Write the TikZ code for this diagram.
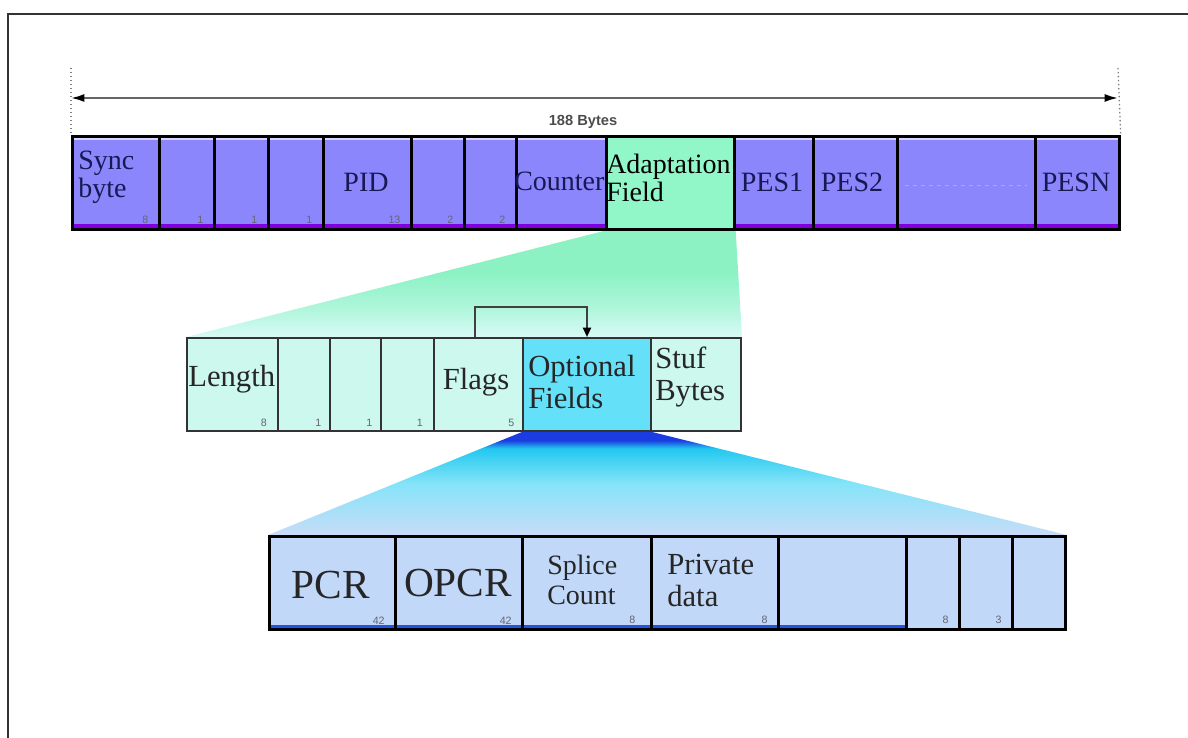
\documentclass[tikz,border=0pt]{standalone}
\usepackage{fontspec}
\setmainfont{Liberation Serif}
\newfontfamily\bytesfont{Liberation Sans}
\usetikzlibrary{arrows.meta,backgrounds}

\definecolor{tsblue}{RGB}{140,134,252}
\definecolor{tsstripe}{RGB}{128,0,224}
\definecolor{afgreen}{RGB}{145,246,200}
\definecolor{afcell}{RGB}{204,248,238}
\definecolor{optcyan}{RGB}{100,224,248}
\definecolor{ofcell}{RGB}{194,216,248}
\definecolor{ofstripe}{RGB}{36,84,226}
\definecolor{navytext}{RGB}{24,24,84}
\definecolor{numgray}{RGB}{100,100,115}
\definecolor{gftop}{RGB}{140,242,196}
\definecolor{gfmid}{RGB}{176,246,220}
\definecolor{gfbot}{RGB}{216,250,246}
\definecolor{bfdark}{RGB}{26,60,224}
\definecolor{bfcyan}{RGB}{34,200,240}
\definecolor{bfmid}{RGB}{132,228,248}
\definecolor{bfbot}{RGB}{200,220,248}

\pgfdeclareverticalshading{greenfan}{100bp}{color(0bp)=(gfbot); color(25bp)=(gfbot); color(38bp)=(gfmid); color(55bp)=(gftop); color(75bp)=(gftop); color(100bp)=(gftop)}
\pgfdeclareverticalshading{bluefan}{100bp}{color(0bp)=(bfbot); color(25bp)=(bfbot); color(50bp)=(bfmid); color(67bp)=(bfcyan); color(71bp)=(bfdark); color(75bp)=(bfdark); color(100bp)=(bfdark)}

\tikzset{
  frame/.style={draw=black!80, line width=1.5pt},
  dimline/.style={draw=black!60, line width=1.5pt,
    {Latex[length=10pt,width=6pt,color=black]}-{Latex[length=10pt,width=6pt,color=black]}},
  tick/.style={draw=black!50, dotted, line width=1pt},
  bytes/.style={font=\bytesfont\bfseries\fontsize{11}{13}\selectfont, text=black!70, inner sep=0pt},
  wd/.style={minimum width=#1*0.75pt},
  tscell/.style={draw=black, line width=2pt, fill=tsblue, anchor=north west, inner sep=0pt, minimum height=69.75pt},
  tsbar/.style={path picture={
      \fill[tsstripe] (path picture bounding box.south west) rectangle ([yshift=4pt]path picture bounding box.south east);
      \fill[white!65!tsblue] ([yshift=-1.5pt]path picture bounding box.north west) rectangle ([yshift=-3pt]path picture bounding box.north east);}},
  afcellst/.style={draw=black!80, line width=1.5pt, fill=afcell, anchor=north west, inner sep=0pt, minimum height=69.75pt},
  ofcellst/.style={draw=black, line width=2.2pt, fill=ofcell, anchor=north west, inner sep=0pt, minimum height=69.75pt},
  ofbar/.style={path picture={
      \fill[ofstripe] (path picture bounding box.south west) rectangle ([yshift=3.5pt]path picture bounding box.south east);}},
  num/.style={font=\bytesfont\fontsize{8}{9}\selectfont, text=numgray, anchor=south east, inner sep=0pt, xshift=-9pt, yshift=5pt},
  lbl/.style={inner sep=0pt, align=left, text=navytext, font=\fontsize{21}{21}\selectfont},
  lblmid/.style={inner sep=0pt, align=left, text=black!85, font=\fontsize{23}{24}\selectfont},
  lblbig/.style={inner sep=0pt, text=black!85, font=\fontsize{31}{32}\selectfont},
  flagline/.style={draw=black!75, line width=1.5pt, -{Triangle[length=7pt,width=6pt,color=black]}}
}

\begin{document}
\begin{tikzpicture}[x=0.75pt, y=-0.75pt]
\useasboundingbox (0,0) rectangle (1188,738);

%Drawing frame
\draw[frame] (8,738) -- (8,14) -- (1188,14);

%Drawing transport packet
\node[tscell, tsbar, wd=87, label={[num]south east:8}] (sync) at (71,135) {};
\node[lbl, anchor=west] (syncT) at (78,177) {Sync\\byte};
\node[tscell, tsbar, wd=55, label={[num]south east:1}] (bitA) at (158,135) {};
\node[tscell, tsbar, wd=54, label={[num]south east:1}] (bitB) at (213,135) {};
\node[tscell, tsbar, wd=55, label={[num]south east:1}] (bitC) at (267,135) {};
\node[tscell, tsbar, wd=88, label={[num]south east:13}] (pid) at (322,135) {};
\node[lbl] (pidT) at (366,182) {PID};
\node[tscell, tsbar, wd=53, label={[num]south east:2}] (scr) at (410,135) {};
\node[tscell, tsbar, wd=52, label={[num]south east:2}] (afc) at (463,135) {};
\node[tscell, tsbar, wd=90] (cnt) at (515,135) {};
\node[lbl, anchor=west] (cntT) at (514,181) {Counter};
\node[tscell, wd=128, fill=afgreen] (adapt) at (605,135) {};
\node[lbl, anchor=west, text=black] (adaptT) at (606,178) {Adaptation\\Field};
\node[tscell, tsbar, wd=79] (pesA) at (733,135) {};
\node[lbl] (pesAT) at (772,182) {PES1};
\node[tscell, tsbar, wd=84] (pesB) at (812,135) {};
\node[lbl] (pesBT) at (852,182) {PES2};
\node[tscell, tsbar, wd=138] (gap) at (896,135) {};
\draw[draw=navytext!35, dashed, line width=0.6pt] ([xshift=7pt,yshift=-2pt]gap.west) -- ([xshift=-7pt,yshift=-2pt]gap.east);
\node[tscell, tsbar, wd=84] (pesN) at (1034,135) {};
\node[lbl] (pesNT) at (1076,182) {PESN};

%length arrow
\coordinate (dimL) at (71,98);
\coordinate (dimR) at (1118,98);
\draw[tick] (71,68) -- (sync.north west);
\draw[tick] (1118,68) -- (pesN.north east);
\draw[dimline] (dimL) -- (dimR);
\node[bytes] (bytesT) at (583,122) {188 Bytes};

%Drawing adaptation field
\node[afcellst, wd=91, label={[num, yshift=-1pt]south east:8}] (len) at (186,337) {};
\node[lblmid, anchor=west] (lenT) at (188,379) {Length};
\node[afcellst, wd=52, label={[num, xshift=2pt, yshift=-1pt]south east:1}] (flA) at (277,337) {};
\node[afcellst, wd=51, label={[num, xshift=2pt, yshift=-1pt]south east:1}] (flB) at (329,337) {};
\node[afcellst, wd=53, label={[num, yshift=-1pt]south east:1}] (flC) at (380,337) {};
\node[afcellst, wd=89, label={[num, xshift=2pt, yshift=-1pt]south east:5}] (flags) at (433,337) {};
\node[lblmid] (flagsT) at (476,382) {Flags};
\node[afcellst, wd=128, fill=optcyan] (opt) at (522,337) {};
\node[lblmid, anchor=west] (optT) at (528,382) {Optional\\Fields};
\node[afcellst, wd=90] (stuf) at (650,337) {};
\node[lblmid, anchor=west] (stufT) at (655,377) {Stuf\\Bytes};

%flags point to optional fields
\draw[flagline] ([xshift=-3pt]flags.north) -- ++(0,-30) -| (opt.north);

%Drawing optional fields
\node[ofcellst, ofbar, wd=126, label={[num]south east:42}] (pcr) at (268,535) {};
\node[lblbig] (pcrT) at (331,585) {PCR};
\node[ofcellst, ofbar, wd=127, label={[num]south east:42}] (opcr) at (394,535) {};
\node[lblbig] (opcrT) at (458,583) {OPCR};
\node[ofcellst, ofbar, wd=129, label={[num, xshift=-4pt]south east:8}] (splice) at (521,535) {};
\node[lblmid, font=\fontsize{21}{23}\selectfont, anchor=west] (spliceT) at (547,580) {Splice\\Count};
\node[ofcellst, ofbar, wd=127, label={[num]south east:8}] (priv) at (650,535) {};
\node[lblmid, anchor=west] (privT) at (667,580) {Private\\data};
\node[ofcellst, ofbar, wd=128] (rsv) at (777,535) {};
\node[ofcellst, wd=53, label={[num]south east:8}] (extA) at (905,535) {};
\node[ofcellst, wd=53, label={[num]south east:3}] (extB) at (958,535) {};
\node[ofcellst, wd=53] (extC) at (1011,535) {};

%fans behind the rows
\begin{pgfonlayer}{background}
\shade[shading=greenfan] (adapt.south west) -- (adapt.south east) -- (stuf.north east) -- (len.north west) -- cycle;
\shade[shading=bluefan] (opt.south west) -- (opt.south east) -- (extC.north east) -- (pcr.north west) -- cycle;
\end{pgfonlayer}

\end{tikzpicture}
\end{document}
